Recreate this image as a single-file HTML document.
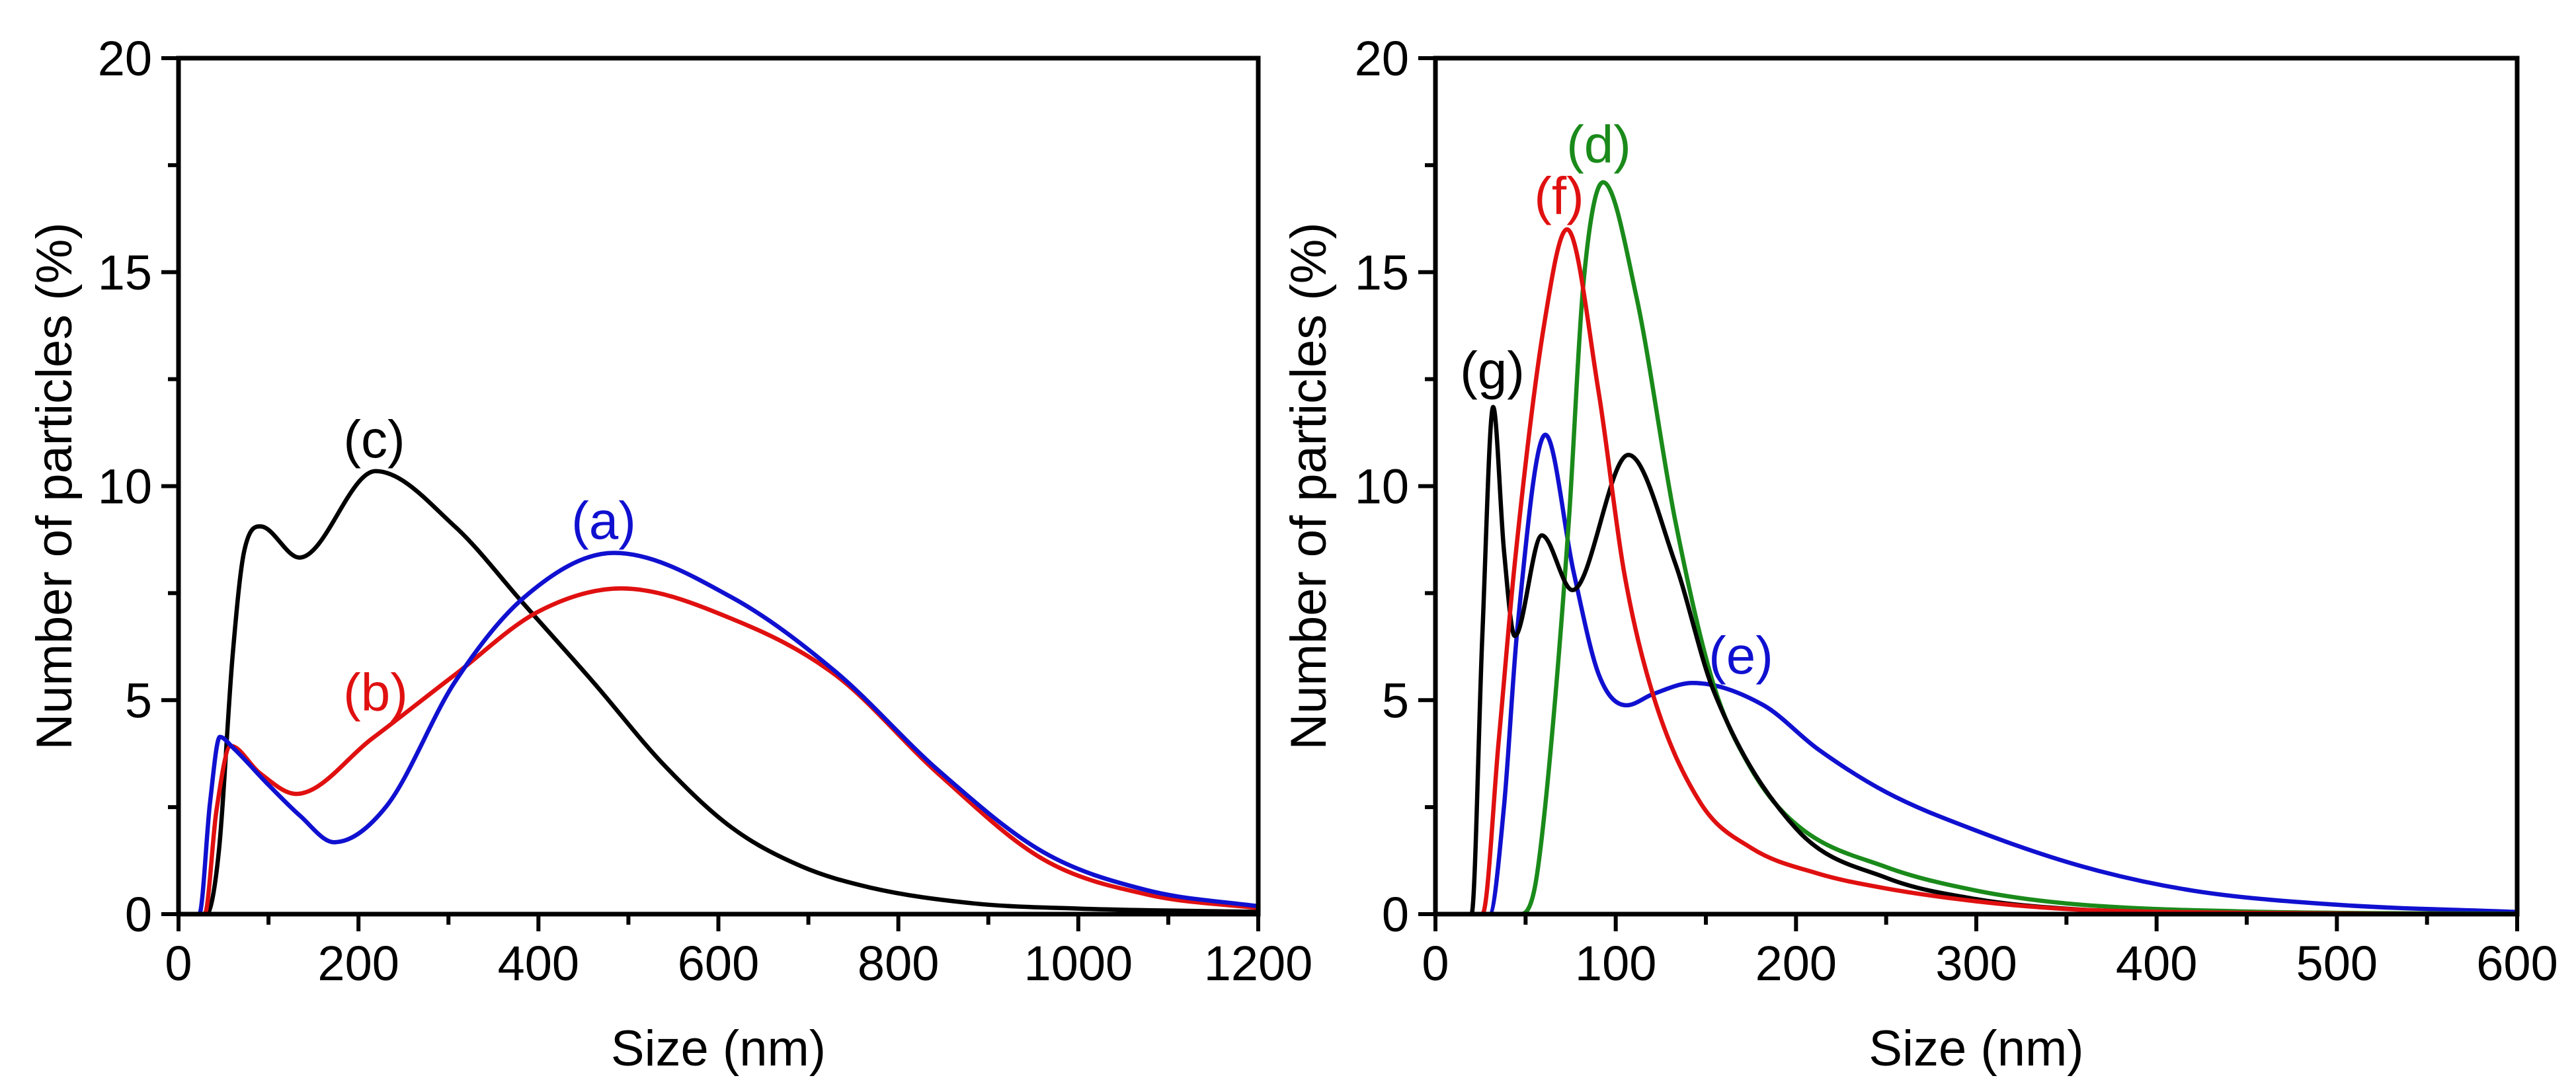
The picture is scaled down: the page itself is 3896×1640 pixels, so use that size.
<!DOCTYPE html>
<html><head><meta charset="utf-8"><style>
html,body{margin:0;padding:0;background:#fff}
svg{display:block}
text{font-family:"Liberation Sans",sans-serif;fill:#000}
</style></head><body>
<svg id="chart" width="3896" height="1640" viewBox="0 0 3896 1640"></svg>
<script>
// Left panel data
const leftXTicks=[0,200,400,600,800,1000,1200];
const yTicks=[0,5,10,15,20];
const aX=[0,23,35,46,60,100,135,173,231,307,384,484,615,730,845,961,1076,1205];
const aY=[0,0,2.6,4.14,3.9,3.02,2.3,1.68,2.52,5.42,7.4,8.44,7.4,5.67,3.35,1.45,0.56,0.17];
const bX=[0,29,42,58,90,131,215,307,400,492,615,730,845,961,1076,1205];
const bY=[0,0,2.4,3.93,3.3,2.81,4.1,5.59,7.07,7.61,6.9,5.59,3.27,1.28,0.46,0.13];
const cX=[0,31,45,60,73,91,134.5,219,307,384,461,538,615,692,769,884,1000,1205];
const cY=[0,0,1.5,6.0,8.48,9.06,8.33,10.35,9.06,7.24,5.42,3.52,2.02,1.12,0.62,0.25,0.13,0.05];
// Right panel data
const rightXTicks=[0,100,200,300,400,500,600];
const dX=[0,47,55,62,74,82,93,111.6,133,154,175,200,250,300,350,450,600];
const dY=[0,0,0.6,3.0,9.2,14.7,17.1,14.4,9.2,5.4,3.4,2.1,1.1,0.55,0.25,0.06,0.01];
const eX=[0,30,38,45.5,61,76.6,90.6,106,120.6,142.6,182,212,250,300,360,420,500,600];
const eY=[0,0,2.5,6.7,11.2,8.0,5.6,4.88,5.14,5.4,4.88,3.86,2.85,1.95,1.1,0.55,0.22,0.05];
const fX=[0,26,35,44,60,73,90.5,104.6,120.6,147,175,212,250,300,350,450,600];
const fY=[0,0,4.0,8.2,13.7,16.0,12.2,8.0,5.14,2.6,1.55,0.95,0.6,0.3,0.12,0.03,0];
const gX=[0,20,26,32,38,44,59,76,107,133,154,200,250,300,360,450,600];
const gY=[0,0,6.5,11.85,8.5,6.5,8.85,7.57,10.73,8.2,5.25,2.0,0.85,0.35,0.1,0.02,0];

const NS="http://www.w3.org/2000/svg";
const svg=document.getElementById('chart');
function mk(tag,attrs,parent){const e=document.createElementNS(NS,tag);for(const k in attrs)e.setAttribute(k,attrs[k]);(parent||svg).appendChild(e);return e;}
const Y0=1383,Y1=88;
function yScale(v){return Y0+(Y1-Y0)*v/20;}
// monotone cubic (Fritsch-Carlson) path
function monoPath(px,py){
  const n=px.length,d=[],m=new Array(n);
  for(let i=0;i<n-1;i++)d.push((py[i+1]-py[i])/(px[i+1]-px[i]));
  m[0]=d[0];m[n-1]=d[n-2];
  for(let i=1;i<n-1;i++){m[i]=(d[i-1]*d[i]<=0)?0:(d[i-1]+d[i])/2;}
  for(let i=0;i<n-1;i++){
    if(d[i]===0){m[i]=0;m[i+1]=0;continue;}
    const a=m[i]/d[i],b=m[i+1]/d[i],s=a*a+b*b;
    if(s>9){const t=3/Math.sqrt(s);m[i]=t*a*d[i];m[i+1]=t*b*d[i];}
  }
  let p="M"+px[0].toFixed(1)+","+py[0].toFixed(1);
  for(let i=0;i<n-1;i++){
    const h=(px[i+1]-px[i])/3;
    p+=" C"+(px[i]+h).toFixed(1)+","+(py[i]+m[i]*h).toFixed(1)+" "+(px[i+1]-h).toFixed(1)+","+(py[i+1]-m[i+1]*h).toFixed(1)+" "+px[i+1].toFixed(1)+","+py[i+1].toFixed(1);
  }
  return p;
}
function panel(name,L,R,xmax,xTicks,minorStep,series,labels,titleX){
  const xs=v=>L+(R-L)*v/xmax;
  const g=mk('g',{});
  
  
  const cp='clip-'+name;
  const defs=mk('defs',{},g);
  const clip=mk('clipPath',{id:cp},defs);
  mk('rect',{x:L,y:Y1,width:R-L,height:Y0-Y1+2},clip);
  series.forEach(s=>{
    const p=mk('path',{d:monoPath(s.x.map(xs),s.y.map(yScale)),fill:'none',stroke:s.c,'stroke-width':6.5,'stroke-linejoin':'round','clip-path':'url(#'+cp+')'},g);
    
    
  });
  const box=mk('rect',{x:L,y:Y1,width:R-L,height:Y0-Y1,fill:'none',stroke:'#000','stroke-width':7},g);
  
  
  for(let v=0;v<=xmax+1e-9;v+=minorStep){
    const major=xTicks.indexOf(Math.round(v))>=0;
    const t=mk('line',{x1:xs(v),x2:xs(v),y1:Y0,y2:Y0+(major?26:16),stroke:'#000','stroke-width':6},g);
    
    
  }
  xTicks.forEach(v=>{
    const t=mk('text',{x:xs(v),y:1483,'font-size':74,'text-anchor':'middle'},g);t.textContent=v;
    
    
  });
  for(let v=0;v<=20;v+=2.5){
    const major=v%5===0;
    const t=mk('line',{x1:L,x2:L-(major?26:16),y1:yScale(v),y2:yScale(v),stroke:'#000','stroke-width':6},g);
    
    
  }
  yTicks.forEach(v=>{
    const t=mk('text',{x:L-40,y:yScale(v)+26,'font-size':74,'text-anchor':'end'},g);t.textContent=v;
    
    
  });
  const xt=mk('text',{x:(L+R)/2,y:1612,'font-size':76,'text-anchor':'middle'},g);xt.textContent='Size (nm)';
  
  
  const yt=mk('text',{x:0,y:0,'font-size':76,'text-anchor':'middle',transform:'translate('+titleX+','+((Y0+Y1)/2)+') rotate(-90)'},g);yt.textContent='Number of particles (%)';
  
  
  labels.forEach(l=>{
    const t=mk('text',{x:l.x,y:l.y,'font-size':80,'text-anchor':'middle',style:'fill:'+l.c},g);t.textContent=l.t;
    
    
  });
}
panel('left-panel',270,1903,1200,leftXTicks,100,[
  {n:'c',x:cX,y:cY,c:'#000'},{n:'b',x:bX,y:bY,c:'#e01010'},{n:'a',x:aX,y:aY,c:'#1010d0'}],
  [{t:'(c)',x:566,y:692,c:'#000'},{t:'(a)',x:913,y:815,c:'#1010d0'},{t:'(b)',x:568,y:1075,c:'#e01010'}],108);
panel('right-panel',2171,3807,600,rightXTicks,50,[
  {n:'e',x:eX,y:eY,c:'#1010d0'},{n:'d',x:dX,y:dY,c:'#1a8a1a'},{n:'g',x:gX,y:gY,c:'#000'},{n:'f',x:fX,y:fY,c:'#e01010'}],
  [{t:'(d)',x:2418,y:246,c:'#1a8a1a'},{t:'(f)',x:2358,y:324,c:'#e01010'},{t:'(g)',x:2257,y:588,c:'#000'},{t:'(e)',x:2633,y:1019,c:'#1010d0'}],2005);
</script>
</body></html>
